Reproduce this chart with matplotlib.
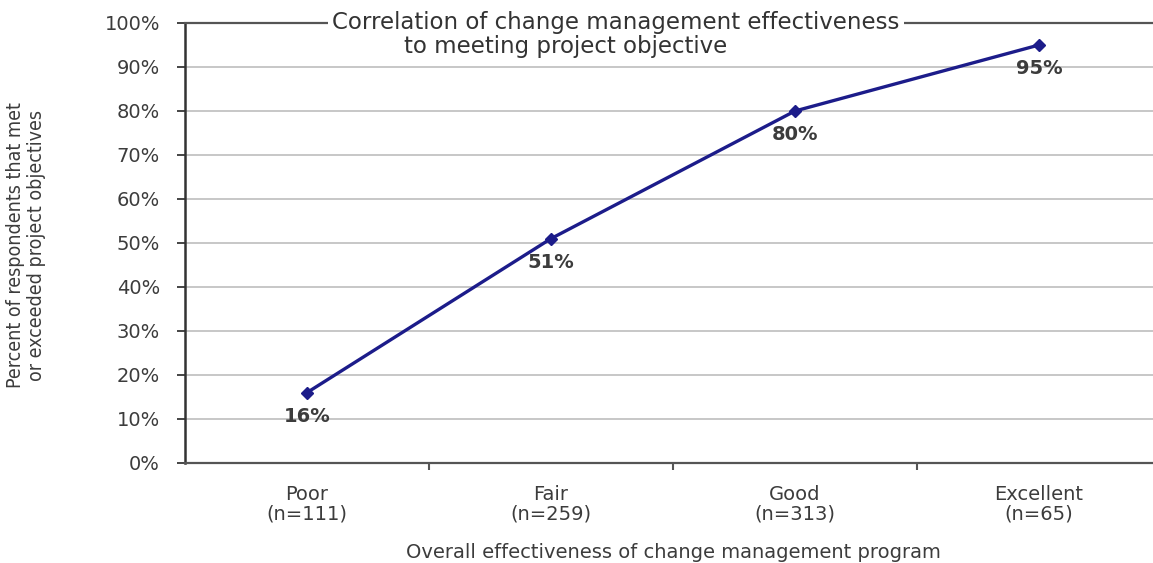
import matplotlib.pyplot as plt
from matplotlib.ticker import FixedLocator, PercentFormatter

# Survey results by effectiveness rating
categories = ['Poor', 'Fair', 'Good', 'Excellent']
sample_sizes = [111, 259, 313, 65]
met_objectives = [16, 51, 80, 95]

plt.rcParams['font.family'] = ['DejaVu Sans']
TEXT = '#3c3c3c'

fig = plt.figure(figsize=(11.53, 5.63), dpi=100)
# plot area runs slightly past the right edge of the figure
ax = fig.add_axes([185 / 1153, 100 / 563, 976 / 1153, 440 / 563])

x = list(range(len(categories)))
ax.plot(x, met_objectives, color='#1c1c8a', linewidth=2.4,
        marker='D', markersize=6, zorder=3)

# value labels under each point
for xi, val in zip(x, met_objectives):
    ax.annotate(f'{val}%', (xi, val), xytext=(0, -17), textcoords='offset points',
                ha='center', va='center', fontsize=14, fontweight='bold', color=TEXT)

ax.set_xlim(-0.5, len(categories) - 0.5)
ax.set_ylim(0, 100)
ax.yaxis.set_major_locator(FixedLocator(range(0, 101, 10)))
ax.yaxis.set_major_formatter(PercentFormatter(decimals=0))
ax.grid(axis='y', color='#bdbdbd', linewidth=1.2)
ax.set_axisbelow(True)

ax.set_xticks(x)
ax.set_xticklabels([f'{c}\n(n={n})' for c, n in zip(categories, sample_sizes)],
                   fontsize=14, color=TEXT, linespacing=1.0)
ax.tick_params(axis='x', length=0, pad=16)
ax.set_xticks([i + 0.5 for i in x[:-1]], minor=True)
ax.tick_params(axis='x', which='minor', length=5, width=1.5, color='#555555',
               direction='out')
ax.tick_params(axis='y', length=6, width=1.4, color='#444444', labelsize=14,
               labelcolor=TEXT, pad=12)

ax.spines['right'].set_visible(False)
ax.spines['left'].set_color('#333333')
ax.spines['left'].set_linewidth(1.8)
ax.spines['bottom'].set_color('#555555')
ax.spines['bottom'].set_linewidth(1.6)
ax.spines['top'].set_color('#555555')
ax.spines['top'].set_linewidth(1.6)

ax.set_xlabel('Overall effectiveness of change management program',
              fontsize=14, color=TEXT)
ax.xaxis.set_label_coords(0.5, -80 / 440)
ax.set_ylabel('Percent of respondents that met\nor exceeded project objectives',
              fontsize=14, color=TEXT, fontstretch='condensed', linespacing=1.15)
ax.yaxis.set_label_coords(-139 / 976, 0.495)

ax.text(616 / 1153, 541 / 563, 'Correlation of change management effectiveness',
        transform=fig.transFigure, ha='center', va='center', fontsize=16.5,
        color='#333333', bbox=dict(facecolor='white', edgecolor='none', pad=3))
ax.text(566 / 1153, 516 / 563, 'to meeting project objective',
        transform=fig.transFigure, ha='center', va='center', fontsize=16.5,
        color='#333333')

fig.savefig('out.png', dpi=100)
